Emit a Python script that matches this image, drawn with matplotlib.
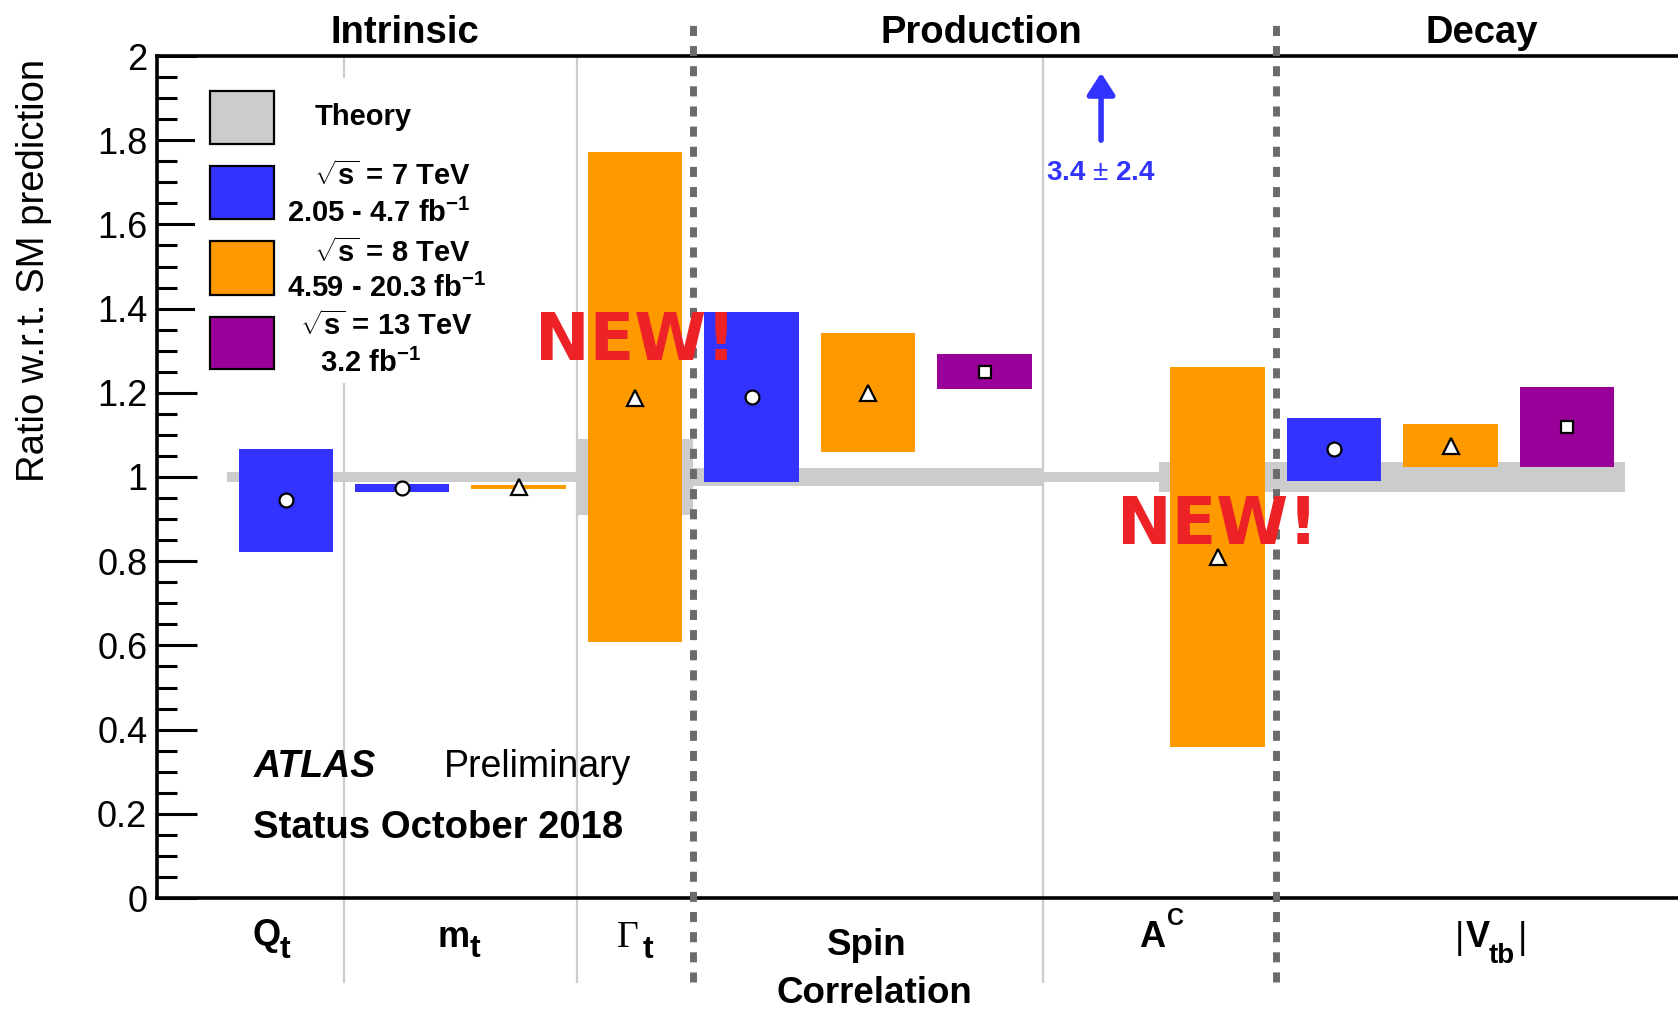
import matplotlib
matplotlib.use('Agg')
import matplotlib.pyplot as plt
from matplotlib.patches import Rectangle
import numpy as np

plt.rcParams['font.family'] = ['Liberation Sans', 'DejaVu Sans']
plt.rcParams['mathtext.fontset'] = 'custom'
plt.rcParams['mathtext.rm'] = 'Liberation Sans'
plt.rcParams['mathtext.bf'] = 'Liberation Sans:bold'
plt.rcParams['mathtext.it'] = 'Liberation Sans:italic'

# measurement slots (one per bar), grouped by property
blue_slot = [0, 1, 4, 9]
blue_val = [0.945, 0.973, 1.191, 1.066]
blue_lo = [0.823, 0.964, 0.989, 0.990]
blue_hi = [1.066, 0.983, 1.391, 1.141]

orange_slot = [2, 3, 5, 8, 10]
orange_val = [0.976, 1.187, 1.199, 0.809, 1.073]
orange_lo = [0.971, 0.607, 1.059, 0.358, 1.023]
orange_hi = [0.981, 1.771, 1.341, 1.262, 1.127]

purple_slot = [6, 11]
purple_val = [1.250, 1.118]
purple_lo = [1.209, 1.023]
purple_hi = [1.291, 1.213]

# 7 TeV charge asymmetry lies off scale
ac7_slot = 7
ac7_val, ac7_err = 3.4, 2.4

# theory bands: start slot, end slot, half width around 1
theory_start = [-0.5, 2.5, 3.5, 6.5, 7.5]
theory_end = [2.5, 3.5, 6.5, 7.5, 11.5]
theory_err = [0.0125, 0.09, 0.021, 0.0125, 0.0365]

thin_seps = [0.5, 2.5, 6.5]
group_seps = [3.5, 8.5]

yticks = [0, 0.2, 0.4, 0.6, 0.8, 1, 1.2, 1.4, 1.6, 1.8, 2]
ytick_labels = ['0', '0.2', '0.4', '0.6', '0.8', '1', '1.2', '1.4', '1.6', '1.8', '2']

BLUE = '#3333ff'
ORANGE = '#ff9900'
PURPLE = '#990099'
GREY = '#cccccc'
DASH = '#6b6b6b'
RED = '#ec2227'

W, H = 1678, 1011


def fpx(x, y):
    return x / W, 1 - y / H


fig = plt.figure(figsize=(W / 100, H / 100), dpi=100)
ax = fig.add_axes([157 / W, 1 - 898 / H, (W - 157) / W, (898 - 56) / H])
ax.set_xlim(-1.105, 11.953)
ax.set_ylim(0, 2)

for s in ['left', 'top', 'bottom']:
    ax.spines[s].set_linewidth(2.6)
ax.spines['right'].set_visible(False)
ax.set_xticks([])
ax.set_yticks(yticks)
ax.set_yticklabels(ytick_labels)
ax.set_yticks(np.arange(0, 2.001, 0.05), minor=True)
ax.tick_params(axis='y', which='major', direction='in', length=29, width=2.2, labelsize=26, pad=7)
ax.tick_params(axis='y', which='minor', direction='in', length=14.5, width=2.2)

# theory bands
for a, b, e in zip(theory_start, theory_end, theory_err):
    ax.fill_between([a, b], 1 - e, 1 + e, color=GREY, lw=0, zorder=1)

ybot = (898 - 982) / 421
ytop = (898 - 17) / 421
for x in thin_seps:
    ax.plot([x, x], [ybot, 2], color=GREY, lw=1.6, clip_on=False, zorder=1.5)

bw = 0.81
mk = dict(mfc='white', mec='black', mew=1.6, ls='none', zorder=4)
ax.bar(blue_slot, np.subtract(blue_hi, blue_lo), bottom=blue_lo, width=bw, color=BLUE, zorder=2)
ax.bar(orange_slot, np.subtract(orange_hi, orange_lo), bottom=orange_lo, width=bw, color=ORANGE, zorder=2)
ax.bar(purple_slot, np.subtract(purple_hi, purple_lo), bottom=purple_lo, width=bw, color=PURPLE, zorder=2)
ax.plot(blue_slot, blue_val, marker='o', ms=10, **mk)
ax.plot(orange_slot, orange_val, marker='^', ms=11, **mk)
ax.plot(purple_slot, purple_val, marker='s', ms=9, **mk)

for x in group_seps:
    ax.plot([x, x], [ybot, ytop], color=DASH, lw=5, ls=(0, (1.45, 1.45)),
            clip_on=False, zorder=5)

# off-scale point: arrow plus value
ax.annotate('', xy=(ac7_slot, 1.96), xytext=(ac7_slot, 1.80),
            arrowprops=dict(arrowstyle='-|>,head_length=0.65,head_width=0.42',
                            mutation_scale=20, lw=4, color=BLUE,
                            shrinkA=0, shrinkB=0), zorder=5)
ax.text(ac7_slot, 1.706, f'{ac7_val:.1f} $\\pm$ {ac7_err:.1f}', color=BLUE,
        fontsize=20, fontweight='bold', ha='center', va='baseline')

ax.text(3, (898 - 360) / 421, 'NEW!', family='DejaVu Sans', fontweight='bold',
        fontsize=47, color=RED, ha='center', va='baseline', zorder=6)
ax.text(8, (898 - 544) / 421, 'NEW!', family='DejaVu Sans', fontweight='bold',
        fontsize=47, color=RED, ha='center', va='baseline', zorder=6)

# legend
fig.patches.append(Rectangle(fpx(195, 383), 300 / W, 305 / H, transform=fig.transFigure,
                             facecolor='white', edgecolor='none', zorder=1))
boxes = [(GREY, 90.7, 144), (BLUE, 166, 219.3), (ORANGE, 241.3, 294.7), (PURPLE, 316.7, 369.3)]
for c, y0, y1 in boxes:
    fig.patches.append(Rectangle(fpx(210, y1), 64 / W, (y1 - y0) / H, transform=fig.transFigure,
                                 facecolor=c, edgecolor='black', lw=1.6, zorder=2))
lkw = dict(fontsize=21, fontweight='bold', va='baseline', zorder=3)
fig.text(*fpx(315, 125), 'Theory', ha='left', **lkw)
fig.text(*fpx(471, 185), r'$\mathbf{\sqrt{s}}$ = 7 TeV', ha='right', **lkw)
fig.text(*fpx(287, 221.7), r'2.05 - 4.7 fb$^{\mathbf{-1}}$', ha='left', **lkw)
fig.text(*fpx(471, 261.7), r'$\mathbf{\sqrt{s}}$ = 8 TeV', ha='right', **lkw)
fig.text(*fpx(287, 296.7), r'4.59 - 20.3 fb$^{\mathbf{-1}}$', ha='left', **lkw)
fig.text(*fpx(473, 335), r'$\mathbf{\sqrt{s}}$ = 13 TeV', ha='right', **lkw)
fig.text(*fpx(320, 371.7), r'3.2 fb$^{\mathbf{-1}}$', ha='left', **lkw)

# headings
hkw = dict(fontsize=27.5, fontweight='bold', ha='center', va='baseline')
fig.text(*fpx(404.5, 43.3), 'Intrinsic', **hkw)
fig.text(*fpx(981.4, 43.3), 'Production', **hkw)
fig.text(*fpx(1482, 43.3), 'Decay', **hkw)

fig.text(*fpx(34, 270), 'Ratio w.r.t. SM prediction', rotation=90, fontsize=27.5,
         ha='center', va='center')

# category labels
ckw = dict(fontsize=26, fontweight='bold', ha='left', va='baseline')
skw = dict(fontsize=23, fontweight='bold', ha='left', va='baseline')
fig.text(*fpx(253, 945), 'Q', **ckw)
fig.text(*fpx(280, 958), 't', **skw)
fig.text(*fpx(437, 946.7), 'm', **ckw)
fig.text(*fpx(470, 957), 't', **skw)
fig.text(*fpx(617, 946.7), 'Γ', family='Liberation Serif', fontsize=27, ha='left', va='baseline')
fig.text(*fpx(643, 958), 't', **skw)
fig.text(*fpx(867, 955), 'Spin', fontsize=26.5, fontweight='bold', ha='center', va='baseline')
fig.text(*fpx(874, 1003), 'Correlation', fontsize=26.5, fontweight='bold', ha='center', va='baseline')
fig.text(*fpx(1139, 946.7), 'A', **ckw)
fig.text(*fpx(1167, 925), 'C', fontsize=17, fontweight='bold', ha='left', va='baseline')
fig.text(*fpx(1455, 948), '|', fontsize=26, ha='left', va='baseline')
fig.text(*fpx(1466, 946.7), 'V', **ckw)
fig.text(*fpx(1489, 963), 'tb', fontsize=20, fontweight='bold', ha='left', va='baseline')
fig.text(*fpx(1518, 948), '|', fontsize=26, ha='left', va='baseline')

# experiment label
fig.text(*fpx(254, 777), 'ATLAS', fontsize=27, fontweight='bold', fontstyle='italic',
         ha='left', va='baseline')
fig.text(*fpx(444, 777), 'Preliminary', fontsize=27, ha='left', va='baseline')
fig.text(*fpx(253, 838), 'Status October 2018', fontsize=27.5, fontweight='bold',
         ha='left', va='baseline')

fig.savefig('out.png', dpi=100, facecolor='white')
